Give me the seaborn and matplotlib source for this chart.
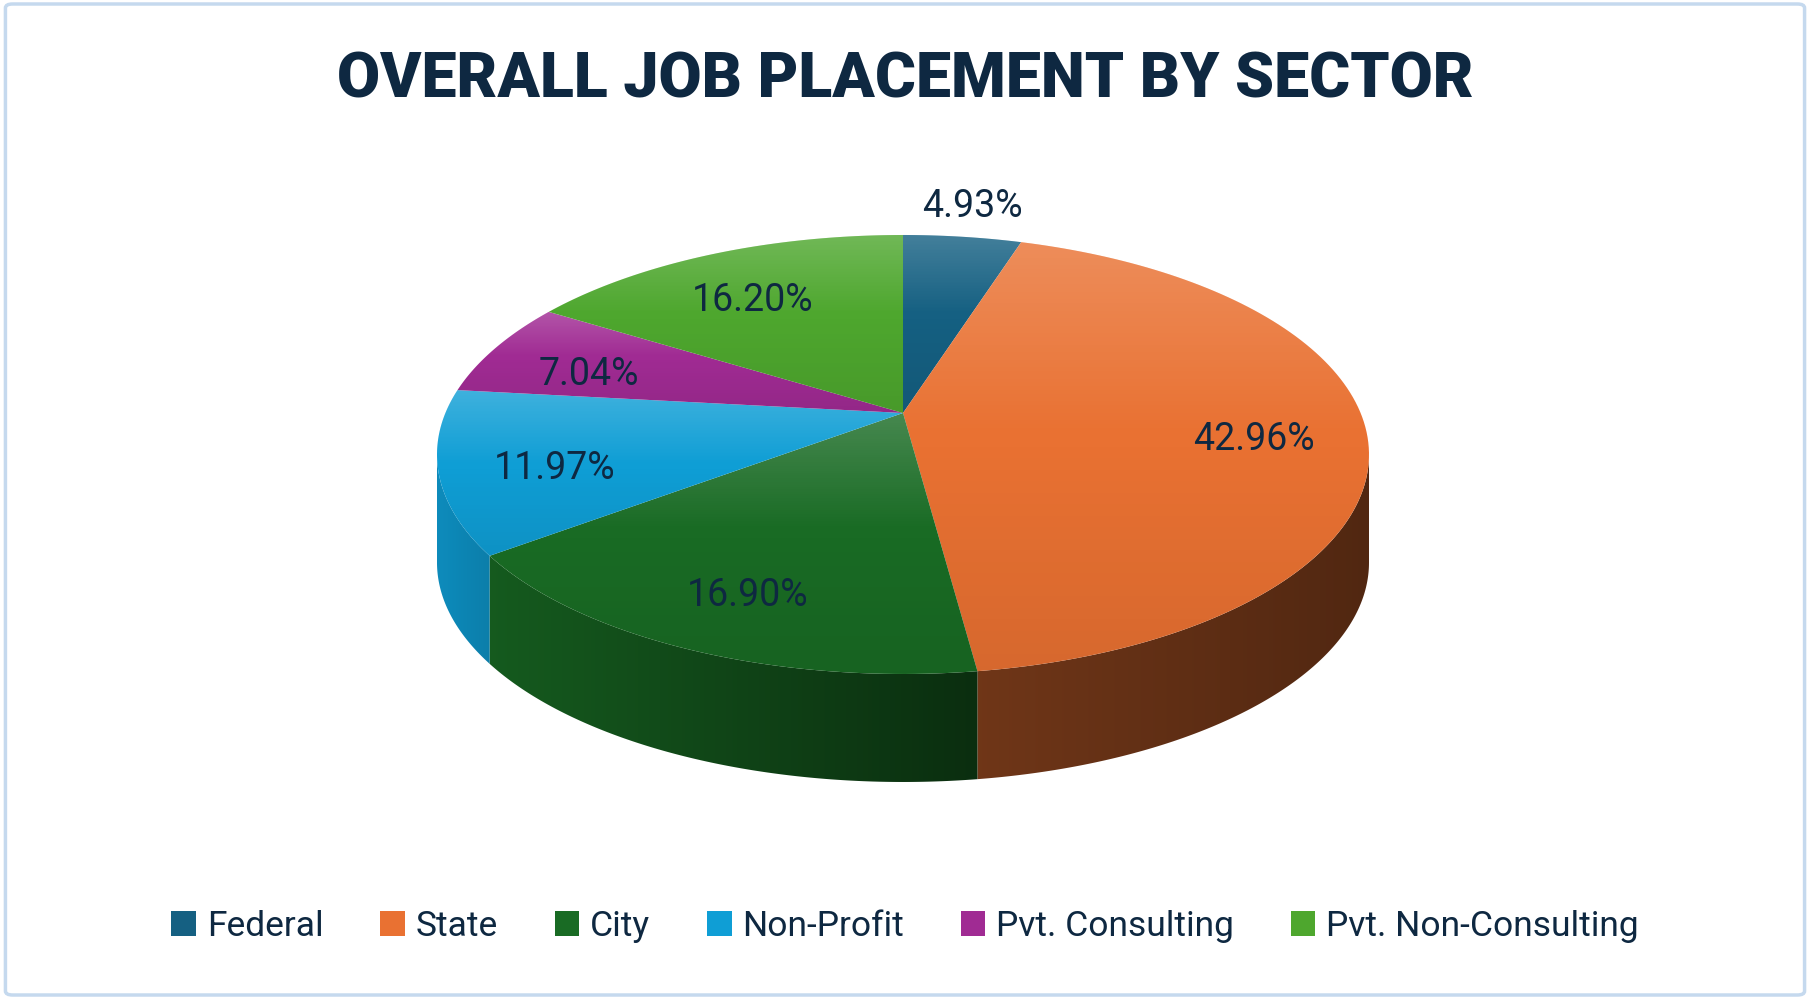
import numpy as np
import matplotlib
matplotlib.use('Agg')
import matplotlib.pyplot as plt
import seaborn as sns
from matplotlib.patches import Polygon, Patch, FancyBboxPatch
from matplotlib.colors import to_rgb
from matplotlib.transforms import Transform, ScaledTranslation
from matplotlib.path import Path

# data
sectors = ['Federal', 'State', 'City', 'Non-Profit', 'Pvt. Consulting', 'Pvt. Non-Consulting']
shares = [4.93, 42.96, 16.90, 11.97, 7.04, 16.20]
colors = ['#156082', '#E97132', '#196B24', '#0F9ED5', '#A02B93', '#4EA72E']
title = 'OVERALL JOB PLACEMENT BY SECTOR'
navy = '#0E2841'

W, H = 1810, 999
# tilted-disc projection (pixels, y measured from the top)
cx, A = 903, 457.6
B, C, h = -133.6, 413.0, 0.189
depth = 108


class Tilt(Transform):
    """Maps the unit pie onto a tilted disc seen in perspective."""
    input_dims = output_dims = 2
    is_separable = False
    has_inverse = False

    def transform_non_affine(self, values):
        values = np.asarray(values, dtype=float).reshape(-1, 2)
        u, v = values[:, 0], values[:, 1]
        w = 1 + h * v
        return np.column_stack([cx + A * u / w, H - (B * v + C) / w])

    def transform_path_non_affine(self, path):
        pts = []
        for seg, code in path.iter_bezier():
            if code == Path.MOVETO:
                pts.append(np.atleast_2d(seg.control_points))
            else:
                pts.append(seg(np.linspace(0, 1, 30))[1:])
        verts = np.concatenate(pts)
        return Path(self.transform_non_affine(verts), closed=True)


sns.set_theme(style='white')
plt.rcParams['font.family'] = ['Roboto', 'DejaVu Sans']

fig = plt.figure(figsize=(W / 100, H / 100), dpi=100)
ax = fig.add_axes([0, 0, 1, 1])
tilt = Tilt()

wedges, texts, autotexts = ax.pie(
    shares, colors=colors, startangle=90, counterclock=False,
    autopct='%.2f%%', pctdistance=0.76,
    wedgeprops=dict(linewidth=0), textprops=dict(fontsize=27, color=navy))

nudge = ScaledTranslation(0, -0.12, fig.dpi_scale_trans)
for w in wedges:
    w.set_transform(tilt + ax.transData)
    w.set_zorder(2)
for t in autotexts:
    t.set_transform(tilt + ax.transData + nudge)
    t.set_zorder(5)

# federal label sits outside the slice
mid = np.deg2rad(90 - 360 * shares[0] / 100 / 2)
autotexts[0].set_position((1.21 * np.cos(mid), 1.21 * np.sin(mid)))
autotexts[0].set_transform(tilt + ax.transData)

# side walls of the front half, shaded left (light) to right (dark)
edge = np.degrees(np.arcsin(h))  # silhouette of the tilted disc
cum = np.concatenate([[0], np.cumsum(shares)]) / sum(shares)
for i, c in enumerate(colors):
    start = 90 - 360 * cum[i]
    end = 90 - 360 * cum[i + 1]
    a, b = max(end, -180 + edge), min(start, -edge)
    if a >= b:
        continue
    base = np.array(to_rgb(c))
    ts = np.deg2rad(np.linspace(b, a, 200))
    top = tilt.transform(np.column_stack([np.cos(ts), np.sin(ts)]))
    wall = np.vstack([top, top[::-1] - [0, depth]])
    poly = Polygon(wall, closed=True, facecolor='none', lw=0)
    ax.add_patch(poly)
    x0, x1 = wall[:, 0].min(), wall[:, 0].max()
    xs = np.linspace(x0, x1, 300)
    u = np.clip((xs - cx) / A, -1, 1)
    frac = (xs - x0) / max(x1 - x0, 1)
    f = np.interp(u, [-1, 0.16, 1], [0.86, 0.46, 0.38]) - 0.05 * frac + 0.02
    img = np.clip(base[None, None, :] * f[None, :, None], 0, 1)
    im = ax.imshow(img, extent=(x0 - 1, x1 + 1, wall[:, 1].min() - 1, wall[:, 1].max() + 1),
                   aspect='auto', zorder=1, interpolation='bilinear')
    im.set_clip_path(poly)

# soft light on each slice top
ys = np.linspace(0, 1, 256)
grad = np.zeros((256, 1, 4))
grad[:, 0, :3] = np.where(ys[:, None] < 0.45, 1.0, 0.0)
grad[:, 0, 3] = np.where(ys < 0.45, 0.2 * (1 - ys / 0.45), 0.08 * (ys - 0.45) / 0.55)
for w in wedges:
    ext = tilt.transform_path(w.get_path()).get_extents()
    im = ax.imshow(grad, extent=(ext.x0, ext.x1, ext.y0, ext.y1),
                   aspect='auto', zorder=3, interpolation='bilinear')
    im.set_clip_path(w)

ax.set_xlim(0, W)
ax.set_ylim(0, H)
ax.set_aspect('auto')
ax.axis('off')

fig.text(0.5, 0.919, title, ha='center', va='center', fontsize=45,
         fontweight='heavy', color=navy)

handles = [Patch(facecolor=c, edgecolor='none') for c in colors]
fig.legend(handles, sectors, loc='center', bbox_to_anchor=(0.5, 0.073), ncol=6,
           frameon=False, fontsize=25.5, handlelength=0.7, handleheight=0.7,
           handletextpad=0.3, columnspacing=1.6, labelcolor=navy)

fig.patches.append(FancyBboxPatch((0.003, 0.004), 0.994, 0.992,
                                  boxstyle='round,pad=0,rounding_size=0.004',
                                  transform=fig.transFigure, fill=False,
                                  edgecolor='#C5D9EE', lw=2.5))

fig.savefig('out.png', dpi=100)
